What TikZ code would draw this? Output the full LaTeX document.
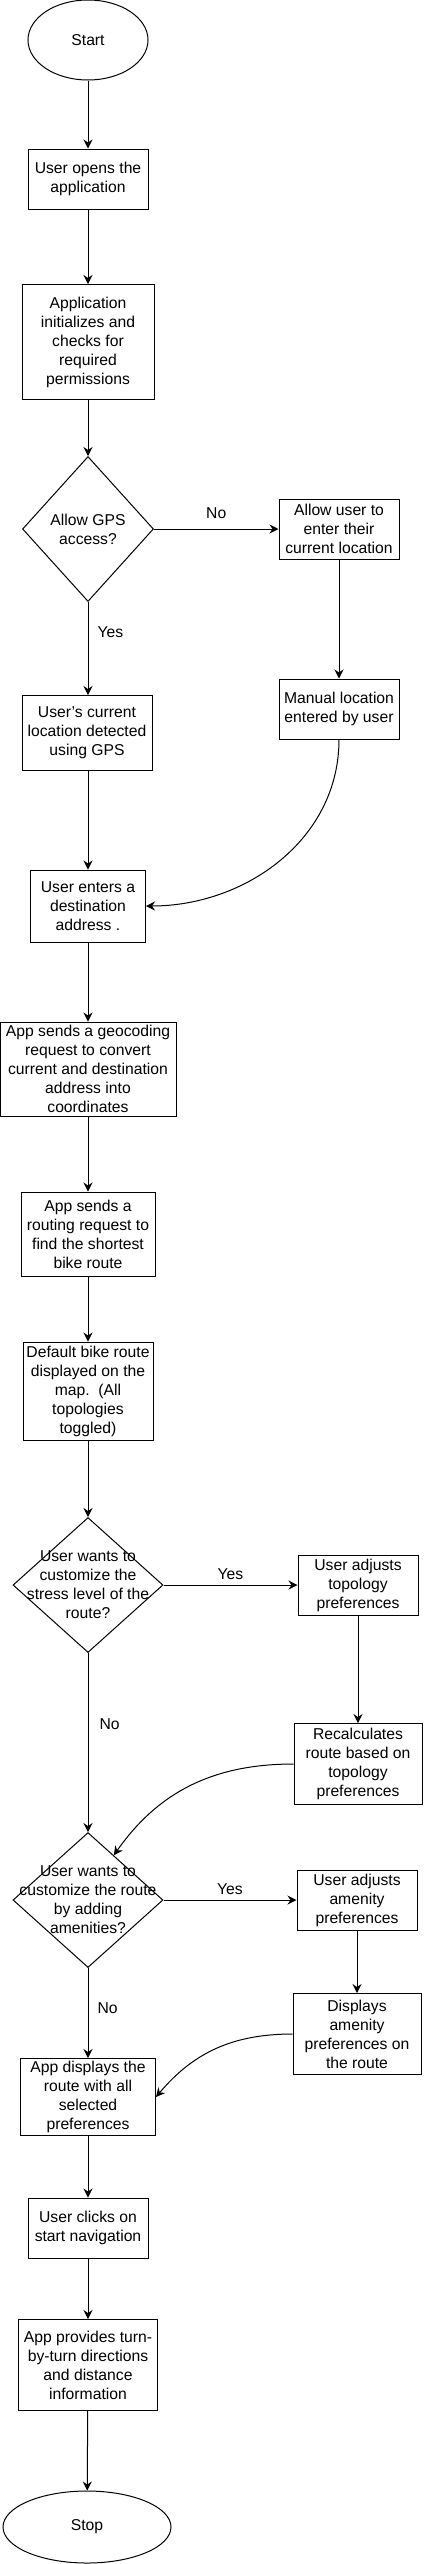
\documentclass[tikz,border=0pt]{standalone}
\usepackage{fontspec}
\setmainfont{Liberation Sans}
\usetikzlibrary{shapes.geometric,arrows.meta}
\begin{document}
\begin{tikzpicture}[x=1pt,y=-1pt,line width=1pt,font=\fontsize{15.7}{19}\selectfont,
  flow/.style={-{Stealth[length=9pt,width=9pt,inset=3pt]}},
  process/.style={draw,rectangle,align=center,inner sep=0pt},
  terminal/.style={draw,ellipse,inner sep=0pt},
  decision/.style={draw,diamond,inner sep=0pt,minimum width=150pt,minimum height=135pt},
  question/.style={align=center,inner sep=0pt},
  answer/.style={inner sep=0pt}]
  \useasboundingbox (0,0) rectangle (423,2564);
                 \node[terminal,minimum width=120pt,minimum height=80pt](start)at(88,40){Start};
                 \node[process,minimum width=120pt,minimum height=60pt](open)at(88,179){User opens the\\application};
                 \node[process,minimum width=132pt,minimum height=115pt](init)at(88,342){Application\\initializes and\\checks for\\required\\permissions};
                 \node[decision,minimum width=131pt,minimum height=145pt](gps)at(88,529){};
                 \node[question](gpsq)at(gps){Allow GPS\\access?};
                 \node[process,minimum width=120pt,minimum height=60pt](allow)at(339,529){Allow user to\\enter their\\current location};
                 \node[process,minimum width=130pt,minimum height=75pt](found)at(87,733){User's current\\location detected\\using GPS};
                 \node[process,minimum width=120pt,minimum height=60pt](manual)at(339,709){Manual location\\entered by user};
                 \node[process,minimum width=115pt,minimum height=72pt](dest)at(88,906){User enters a\\destination\\address .};
                 \node[process,minimum width=176pt,minimum height=94pt](geo)at(88,1069){App sends a geocoding\\request to convert\\current and destination\\address into\\coordinates};
                 \node[process,minimum width=134pt,minimum height=84pt](routing)at(88,1234){App sends a\\routing request to\\find the shortest\\bike route};
                 \node[process,minimum width=130pt,minimum height=98pt](default)at(88,1391){Default bike route\\displayed on the\\map.~~(All\\topologies\\toggled)};
                 \node[decision](stress)at(88,1585){};
                 \node[question](stressq)at(stress){User wants to\\customize the\\stress level of the\\route?};
                 \node[process,minimum width=120pt,minimum height=60pt](topo)at(358,1585){User adjusts\\topology\\preferences};
                 \node[process,minimum width=128pt,minimum height=81pt](recalc)at(358,1764){Recalculates\\route based on\\topology\\preferences};
                 \node[decision](amen)at(88,1900){};
                 \node[question](amenq)at(amen){User wants to\\customize the route\\by adding\\amenities?};
                 \node[process,minimum width=120pt,minimum height=60pt](adjust)at(357,1900){User adjusts\\amenity\\preferences};
                 \node[process,minimum width=128pt,minimum height=81pt](shows)at(357,2034){Displays\\amenity\\preferences on\\the route};
                 \node[process,minimum width=135pt,minimum height=77pt](final)at(88,2097){App displays the\\route with all\\selected\\preferences};
                 \node[process,minimum width=120pt,minimum height=60pt](nav)at(88,2228){User clicks on\\start navigation};
                 \node[process,minimum width=139pt,minimum height=91pt](turn)at(88,2365){App provides turn-\\by-turn directions\\and distance\\information};
                 \node[terminal,minimum width=168pt,minimum height=72pt](stop)at(87,2527){Stop};
                 \draw[flow](start)--(open);
                 \draw[flow](open)--(init);
                 \draw[flow](init)--(gps);
                 \draw[flow](gps)--(allow) node[answer,midway,above=10pt]{No};
                 \draw[flow](gps.south)--(gps.south|-found.north) node[answer,pos=0.32,right=9pt]{Yes};
                 \draw[flow](allow)--(manual);
                 \draw[flow](manual.south)to[out=-90,in=0](dest.east);
                 \draw[flow](found.south-|dest.north)--(dest);
                 \draw[flow](dest)--(geo);
                 \draw[flow](geo)--(routing);
                 \draw[flow](routing)--(default);
                 \draw[flow](default)--(stress);
                 \draw[flow](stress)--(topo) node[answer,midway,above=5pt]{Yes};
                 \draw[flow](stress)--(amen) node[answer,pos=0.4,right=11pt]{No};
                 \draw[flow](topo)--(recalc);
                 \draw[flow](recalc.west)to[out=180,in=55](amen.60);
                 \draw[flow](amen)--(adjust) node[answer,midway,above=5pt]{Yes};
                 \draw[flow](amen)--(final) node[answer,pos=0.45,right=9pt]{No};
                 \draw[flow](adjust)--(shows);
                 \draw[flow](shows.west)to[out=180,in=50](final.east);
                 \draw[flow](final)--(nav);
                 \draw[flow](nav)--(turn);
                 \draw[flow](turn)--(stop);
               \end{tikzpicture}
\end{document}
